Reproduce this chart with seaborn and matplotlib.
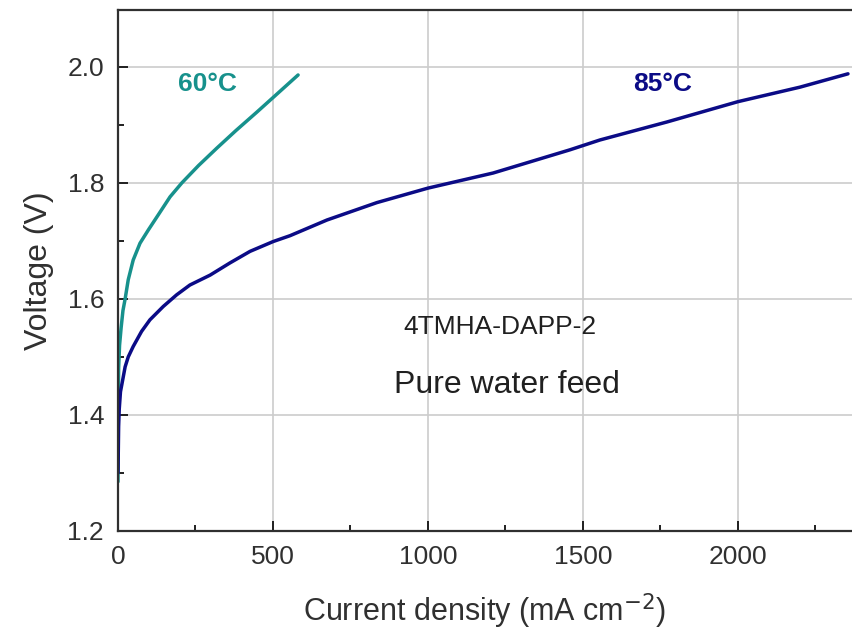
import numpy as np
import pandas as pd
import matplotlib
matplotlib.use("Agg")
import matplotlib.pyplot as plt
from matplotlib.ticker import MultipleLocator, FormatStrFormatter
import seaborn as sns

# Polarization curves (current density in mA cm^-2, cell voltage in V)
j_60 = [0, 0.5, 1, 2, 5, 10, 16, 23, 33, 49, 71, 98, 130, 168, 206, 260, 319, 380, 448,
        500, 581]
v_60 = [1.285, 1.35, 1.42, 1.48, 1.52, 1.55, 1.58, 1.60, 1.633, 1.667, 1.696, 1.719, 1.745,
        1.776, 1.80, 1.83, 1.86, 1.89, 1.922, 1.947, 1.986]

j_85 = [0, 1, 2, 4, 8, 15, 23, 33, 49, 76, 103, 146, 189, 232, 297, 361, 426, 501, 555,
        674, 835, 1000, 1210, 1458, 1555, 1771, 2000, 2200, 2355]
v_85 = [1.30, 1.34, 1.38, 1.41, 1.44, 1.46, 1.483, 1.50, 1.518, 1.544, 1.564, 1.587, 1.607,
        1.624, 1.641, 1.662, 1.682, 1.699, 1.709, 1.736, 1.766, 1.791, 1.817, 1.857, 1.874,
        1.905, 1.94, 1.965, 1.988]

temps = ["60°C", "85°C"]
colors = {"60°C": "#17918c", "85°C": "#0b0b86"}

df = pd.concat([
    pd.DataFrame({"j": j_60, "V": v_60, "T": temps[0]}),
    pd.DataFrame({"j": j_85, "V": v_85, "T": temps[1]}),
], ignore_index=True)

sns.set_theme(style="whitegrid")
plt.rcParams["font.family"] = ["Liberation Sans", "DejaVu Sans"]

fig = plt.figure(figsize=(8.52, 6.34), dpi=100)
ax = fig.add_axes([118 / 852, 1 - 531 / 634, 1 - 118 / 852, (531 - 10) / 634])

sns.lineplot(data=df, x="j", y="V", hue="T", palette=colors, sort=False,
             estimator=None, linewidth=2.5, legend=False, ax=ax)

ax.set_xlim(0, 2368)
ax.set_ylim(1.2, 2.098)
ax.xaxis.set_major_locator(MultipleLocator(500))
ax.xaxis.set_minor_locator(MultipleLocator(250))
ax.yaxis.set_major_locator(MultipleLocator(0.2))
ax.yaxis.set_minor_locator(MultipleLocator(0.1))
ax.yaxis.set_major_formatter(FormatStrFormatter("%.1f"))

ax.grid(True, which="major", color="#cccccc", linewidth=1.2)
ax.grid(False, which="minor")
ax.set_axisbelow(True)

for side in ["left", "bottom", "top"]:
    ax.spines[side].set_visible(True)
    ax.spines[side].set_color("#303030")
    ax.spines[side].set_linewidth(1.6)
ax.spines["right"].set_visible(False)

ax.tick_params(which="both", direction="in", color="#202020", labelcolor="#303030",
               labelsize=19, top=False, right=False, left=True, bottom=True)
ax.tick_params(which="major", length=7, width=1.4, pad=10)
ax.tick_params(which="minor", length=4.5, width=1.4)

ax.set_xlabel("Current density (mA cm$^{-2}$)", fontsize=22, color="#303030", labelpad=16)
ax.set_ylabel("Voltage (V)", fontsize=23, color="#303030", labelpad=10)

ax.text(287, 1.971, "60°C", color=colors["60°C"], fontsize=19, fontweight="bold",
        ha="center", va="center")
ax.text(1758, 1.971, "85°C", color=colors["85°C"], fontsize=19, fontweight="bold",
        ha="center", va="center")
ax.text(1232, 1.552, "4TMHA-DAPP-2", color="#202020", fontsize=19, ha="center", va="center")
ax.text(1255, 1.452, "Pure water feed", color="#202020", fontsize=23, ha="center", va="center")

fig.savefig("out.png", dpi=100)
